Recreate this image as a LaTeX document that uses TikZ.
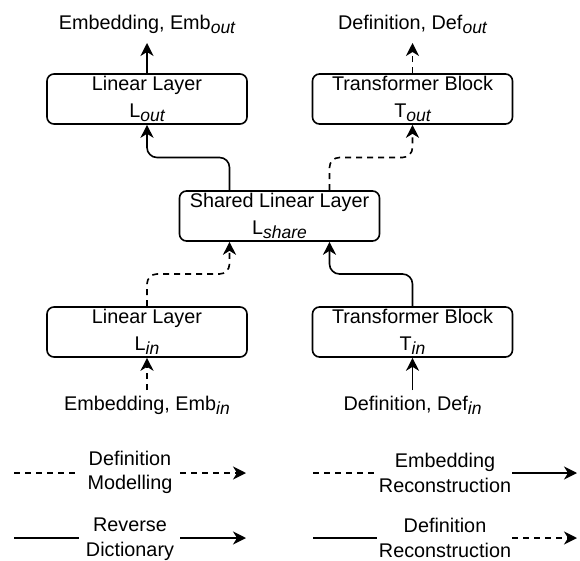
\documentclass[tikz,border=0pt]{standalone}
\usepackage{fontspec}
\setmainfont{Liberation Sans}
\usetikzlibrary{arrows.meta,calc}
\newcommand\mysub[1]{\raisebox{-4pt}{\fontsize{17.5}{17.5}\selectfont\itshape #1}}
\begin{document}
\begin{tikzpicture}[x=1pt,y=-1pt,
  box/.style={draw, line width=1.6pt, rounded corners=7pt, minimum width=200pt, minimum height=50pt, inner sep=0pt, align=center, font=\fontsize{19.8}{26.5}\selectfont},
  lbl/.style={inner sep=0pt, font=\fontsize{19.8}{24.5}\selectfont, align=center},
  conn/.style={line width=1.6pt, rounded corners=10pt, -{Stealth[length=13pt,width=13pt,inset=4pt]}},
  dsh/.style={dash pattern=on 6pt off 5pt},
  plain/.style={line width=1.6pt}
]
\useasboundingbox (0,0) rectangle (580,561);

% boxes
\node[box] (Lout) at (147,99) {Linear Layer\\L\mysub{out}};
\node[box] (Tout) at (412.5,99) {Transformer Block\\T\mysub{out}};
\node[box] (Shared) at (279.5,216) {Shared Linear Layer\\L\mysub{share}};
\node[box] (Lin) at (147,332) {Linear Layer\\L\mysub{in}};
\node[box] (Tin) at (412.5,332) {Transformer Block\\T\mysub{in}};

% outer labels
\node[lbl, anchor=base] (embout) at (147,29.5) {Embedding, Emb\mysub{out}};
\node[lbl, anchor=base] (defout) at (412.5,29.5) {Definition, Def\mysub{out}};
\node[lbl, anchor=base] (embin) at (147,410) {Embedding, Emb\mysub{in}};
\node[lbl, anchor=base] (defin) at (412.5,410) {Definition, Def\mysub{in}};

\coordinate (embouttip) at (147,43);
\coordinate (defouttip) at (412.5,43);
\coordinate (embinstart) at (147,390);
\coordinate (definstart) at (412.5,390);

\draw[conn] (Lout.north) -- (embouttip);
\draw[conn,dsh] (Tout.north) -- (defouttip);
\draw[conn,dsh] (embinstart) -- (Lin.south);
\draw[conn] (definstart) -- (Tin.south);

% middle connectors
\coordinate (m1) at ($(Lin.north)!0.5!(Shared.south)$);
\coordinate (sL) at ([xshift=-50pt]Shared.south);
\coordinate (sR) at ([xshift=50pt]Shared.south);
\draw[conn,dsh] (Lin.north) -- (Lin.north |- m1) -- (sL |- m1) -- (sL);
\draw[conn] (Tin.north) -- (Tin.north |- m1) -- (sR |- m1) -- (sR);

\coordinate (m2) at ($(Shared.north)!0.5!(Lout.south)$);
\coordinate (nL) at ([xshift=-50pt]Shared.north);
\coordinate (nR) at ([xshift=50pt]Shared.north);
\draw[conn] (nL) -- (nL |- m2) -- (Lout.south |- m2) -- (Lout.south);
\draw[conn,dsh] (nR) -- (nR |- m2) -- (Tout.south |- m2) -- (Tout.south);

% legend
\node[lbl] (dm) at (130,472.5) {Definition\\Modelling};
\coordinate (a1) at (14,473); \coordinate (a2) at (79,473);
\coordinate (a3) at (180,473); \coordinate (a4) at (246,473);
\draw[plain,dsh] (a1) -- (a2);
\draw[conn,dsh] (a3) -- (a4);

\node[lbl] (rd) at (130,539.3) {Reverse\\Dictionary};
\coordinate (b1) at (14,538); \coordinate (b2) at (79,538);
\coordinate (b3) at (180,538); \coordinate (b4) at (246,538);
\draw[plain] (b1) -- (b2);
\draw[conn] (b3) -- (b4);

\node[lbl] (er) at (445,473) {Embedding\\Reconstruction};
\coordinate (c1) at (313,473); \coordinate (c2) at (377,473);
\coordinate (c3) at (512,473); \coordinate (c4) at (577,473);
\draw[plain,dsh] (c1) -- (c2);
\draw[conn] (c3) -- (c4);

\node[lbl] (dr) at (445,538) {Definition\\Reconstruction};
\coordinate (d1) at (313,538); \coordinate (d2) at (377,538);
\coordinate (d3) at (512,538); \coordinate (d4) at (577,538);
\draw[plain] (d1) -- (d2);
\draw[conn,dsh] (d3) -- (d4);
\end{tikzpicture}
\end{document}
